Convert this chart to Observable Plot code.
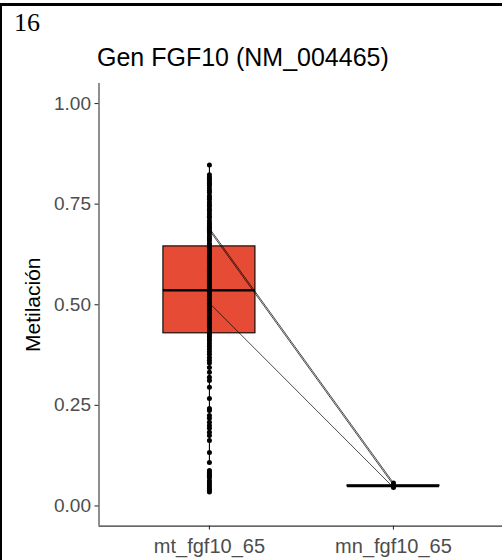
<!DOCTYPE html>
<html>
<head>
<meta charset="utf-8">
<script src="https://cdn.jsdelivr.net/npm/d3@7"></script>
<script src="https://cdn.jsdelivr.net/npm/@observablehq/plot@0.6"></script>
<style>
  html, body { margin: 0; padding: 0; background: #fff; width: 502px; height: 560px; overflow: hidden; }
  #wrap { position: relative; width: 502px; height: 560px; }
  #chart { position: absolute; left: 0; top: 0; }
  #chart svg { max-width: none; }
  .num { position: absolute; left: 14px; top: 10px; font-family: "Liberation Serif", "Times New Roman", serif; font-size: 26px; line-height: 1; color: #000; }
  .title { position: absolute; left: 97px; top: 45px; font-family: "Liberation Sans", Arial, sans-serif; font-size: 25px; line-height: 1; color: #000; white-space: nowrap; }
  .topline { position: absolute; left: 0; top: 3px; width: 502px; height: 3px; background: #000; }
  .leftline { position: absolute; left: 0; top: 3px; width: 2px; height: 557px; background: #000; }
</style>
</head>
<body>
<div id="wrap">
  <div id="chart"></div>
  <div class="topline"></div>
  <div class="leftline"></div>
  <div class="num">16</div>
  <div class="title">Gen FGF10 (NM_004465)</div>
</div>
<script>
const categories = ["mt_fgf10_65", "mn_fgf10_65"];
const yTicks = [0, 0.25, 0.5, 0.75, 1];

const mtValues = [
  0.847, 0.823, 0.817, 0.812, 0.806, 0.801, 0.797, 0.79, 0.784, 0.779, 0.771, 0.766, 0.762, 0.755, 0.749, 0.744, 0.737, 0.733, 0.726, 0.72, 0.716, 0.709, 0.703, 0.698, 0.694, 0.69, 0.685, 0.681, 0.676, 0.669, 0.664, 0.659, 0.652, 0.648,
  0.643, 0.639, 0.636, 0.631, 0.627, 0.624, 0.62, 0.615, 0.611, 0.608, 0.604, 0.599, 0.596, 0.592, 0.588, 0.583, 0.58, 0.577, 0.572, 0.568, 0.565, 0.561, 0.556, 0.553, 0.549, 0.545, 0.542, 0.539, 0.536, 0.533, 0.529, 0.526, 0.521, 0.518, 0.514, 0.511, 0.507, 0.504, 0.5, 0.496, 0.493, 0.488, 0.485, 0.481, 0.477, 0.474, 0.469, 0.466, 0.462, 0.458, 0.455, 0.451, 0.447, 0.444, 0.44, 0.437, 0.433, 0.43,
  0.426, 0.421, 0.415, 0.41, 0.403, 0.397, 0.39, 0.383, 0.377, 0.369, 0.362, 0.355, 0.344, 0.332, 0.32, 0.312, 0.295, 0.267, 0.242, 0.237, 0.225, 0.218, 0.208, 0.2, 0.193, 0.183, 0.175, 0.163, 0.133, 0.108,
  0.088, 0.083, 0.079, 0.074, 0.071, 0.063, 0.058, 0.053, 0.048, 0.043, 0.039, 0.035
];
const mnValues = [0.057, 0.05, 0.046];

// paired samples joined by lines
const pairedMt = [0.69, 0.685, 0.504];
const pairedMn = [0.057, 0.052, 0.046];

// box statistics
const boxQ1 = [0.429, 0.049];
const boxMedian = [0.536, 0.050];
const boxQ3 = [0.645, 0.051];
const whiskerLow = [0.108, 0.046];
const whiskerHigh = [0.847, 0.057];

const boxes = categories.map((c, i) => ({
  pos: i + 1, q1: boxQ1[i], med: boxMedian[i], q3: boxQ3[i], wlo: whiskerLow[i], whi: whiskerHigh[i]
}));
const points = [
  ...mtValues.map(v => ({pos: 1, value: v})),
  ...mnValues.map(v => ({pos: 2, value: v}))
];
const pairs = pairedMt.map((v, i) => ({mt: v, mn: pairedMn[i]}));

const axisColor = "#333333";
const labelColor = "#4D4D4D";

const chart = Plot.plot({
  width: 502,
  height: 560,
  x: {type: "linear", domain: [0.4, 2.6], range: [98.5, 503.4], axis: null},
  y: {type: "linear", domain: [-0.05, 1.05], range: [525.6, 82.9], axis: null},
  style: {fontFamily: "'Liberation Sans', Arial, sans-serif", background: "transparent", overflow: "visible"},
  marks: [
    // whiskers
    Plot.ruleX(boxes, {x: "pos", y1: "wlo", y2: "q1", stroke: "#000", strokeWidth: 1.1}),
    Plot.ruleX(boxes, {x: "pos", y1: "q3", y2: "whi", stroke: "#000", strokeWidth: 1.1}),
    // boxes
    Plot.rect(boxes, {x1: d => d.pos - 0.25, x2: d => d.pos + 0.25, y1: "q1", y2: "q3", fill: "#E64B35", stroke: "#000", strokeWidth: 1.1}),
    Plot.ruleY(boxes, {y: "med", x1: d => d.pos - 0.25, x2: d => d.pos + 0.25, stroke: "#000", strokeWidth: 2.6}),
    // paired lines
    Plot.link(pairs, {x1: 1, y1: "mt", x2: 2, y2: "mn", stroke: "#000", strokeWidth: 0.7}),
    // points
    Plot.dot(points, {x: "pos", y: "value", r: 2.5, fill: "#000", stroke: "none"}),
    // axis lines
    Plot.ruleX([0.4], {y1: -0.05, y2: 1.05, stroke: axisColor, strokeWidth: 1.1}),
    Plot.ruleY([-0.05], {x1: 0.4, x2: 2.6, stroke: axisColor, strokeWidth: 1.1}),
    // ticks
    Plot.ruleY(yTicks, {x1: 0.4, x2: 0.4, insetLeft: -4, stroke: axisColor, strokeWidth: 1.1}),
    Plot.ruleX([1, 2], {y1: -0.05, y2: -0.05, insetBottom: -4, stroke: axisColor, strokeWidth: 1.1}),
    // tick labels
    Plot.text(yTicks, {x: 0.4, y: d => d, text: d => d.toFixed(2), textAnchor: "end", dx: -8, fontSize: 19, fill: labelColor}),
    Plot.text(categories, {x: (d, i) => i + 1, y: -0.05, text: d => d, dy: 20, fontSize: 20, fill: labelColor}),
    // y axis title
    Plot.text(["Metilación"], {x: 0.4, y: 0.5, text: d => d, rotate: -90, dx: -66, fontSize: 21, fill: "#000"})
  ]
});
document.getElementById("chart").appendChild(chart);
</script>
</body>
</html>
